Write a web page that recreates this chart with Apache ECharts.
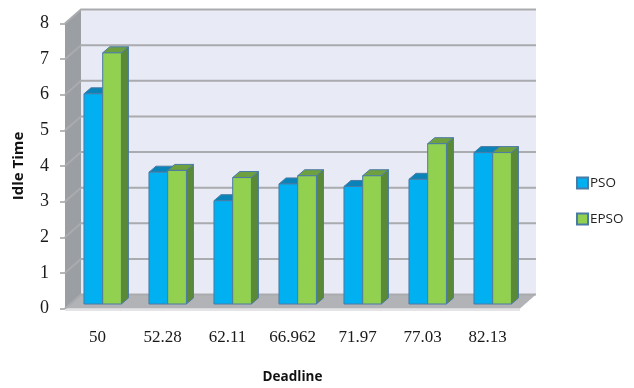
<!DOCTYPE html>
<html>
<head>
<meta charset="utf-8">
<style>html,body{margin:0;padding:0;background:#fff}#chart{width:634px;height:388px}</style>
<script src="https://cdn.jsdelivr.net/npm/echarts@6/dist/echarts.min.js"></script>
</head>
<body>
<div id="chart"></div>
<script>
// Idle time per deadline for the two schedulers
const deadlines = ['50', '52.28', '62.11', '66.962', '71.97', '77.03', '82.13'];
const psoValues = [5.9, 3.7, 2.9, 3.37, 3.3, 3.5, 4.25];
const epsoValues = [7.05, 3.75, 3.55, 3.6, 3.6, 4.5, 4.25];
const yTicks = [0, 1, 2, 3, 4, 5, 6, 7, 8];

// Pseudo-3D box depth for the chart room and for the bars inside it
const ROOM_DX = 16, ROOM_DY = -14;
const BAR_SHIFT_X = 5.2, BAR_SHIFT_Y = -4.5, BAR_DX = 7, BAR_DY = -6;
const BAR_WIDTH_RATIO = 0.288;

function poly(points, fill, extra) {
  return Object.assign({
    type: 'polygon', silent: true,
    shape: { points: points },
    style: { fill: fill, stroke: 'none' }
  }, extra || {});
}

// Back wall, side wall, floor and the gridlines running along them
function renderRoom(params, api) {
  const g = params.coordSys;
  const l = g.x, r = g.x + g.width;
  const y0 = api.coord([0, 0])[1], yT = api.coord([0, yTicks[yTicks.length - 1]])[1];
  const kids = [
    poly([[l + ROOM_DX, yT + ROOM_DY], [r + ROOM_DX, yT + ROOM_DY], [r + ROOM_DX, y0 + ROOM_DY], [l + ROOM_DX, y0 + ROOM_DY]], '#e8ebf5'),
    poly([[l, yT], [l + ROOM_DX, yT + ROOM_DY], [l + ROOM_DX, y0 + ROOM_DY], [l, y0]], '#9b9fa3'),
    poly([[l, y0], [l + ROOM_DX, y0 + ROOM_DY], [r + ROOM_DX, y0 + ROOM_DY], [r, y0]], '#b1b3b6')
  ];
  yTicks.forEach(function (t) {
    const y = api.coord([0, t])[1];
    kids.push({
      type: 'polyline', silent: true,
      shape: { points: [[l, y], [l + ROOM_DX, y + ROOM_DY], [r + ROOM_DX, y + ROOM_DY]] },
      style: { fill: 'none', stroke: '#a9abae', lineWidth: 2 }
    });
  });
  kids.push({
    type: 'line', silent: true,
    shape: { x1: l, y1: y0 + 1.5, x2: r, y2: y0 + 1.5 },
    style: { stroke: '#e4e4e6', lineWidth: 2 }
  });
  return { type: 'group', children: kids };
}

// One extruded bar; slot 0 sits left of the category centre, slot 1 right of it
function barRenderer(slot, front, side, top) {
  return function (params, api) {
    const cat = api.value(0), val = api.value(1);
    const base = api.coord([cat, 0]), head = api.coord([cat, val]);
    const w = api.size([1, 0])[0] * BAR_WIDTH_RATIO;
    const x1 = base[0] + BAR_SHIFT_X + (slot - 1) * w, x2 = x1 + w;
    const yb = base[1] + BAR_SHIFT_Y, yt = head[1] + BAR_SHIFT_Y;
    const edge = { stroke: '#4a7ba6', lineWidth: 1, lineJoin: 'round' };
    return {
      type: 'group',
      children: [
        poly([[x2, yt], [x2 + BAR_DX, yt + BAR_DY], [x2 + BAR_DX, yb + BAR_DY], [x2, yb]], side, { style: Object.assign({ fill: side }, edge) }),
        poly([[x1, yt], [x1 + BAR_DX, yt + BAR_DY], [x2 + BAR_DX, yt + BAR_DY], [x2, yt]], top, { style: Object.assign({ fill: top }, edge) }),
        poly([[x1, yt], [x2, yt], [x2, yb], [x1, yb]], front, { style: Object.assign({ fill: front }, edge) })
      ]
    };
  };
}

const chart = echarts.init(document.getElementById('chart'), null, { renderer: 'canvas' });
chart.setOption({
  animation: false,
  backgroundColor: '#ffffff',
  grid: { left: 65, right: 114, top: 23.5, bottom: 79.5, outerBoundsMode: 'none' },
  legend: {
    orient: 'vertical', left: 571, top: 171, icon: 'rect', itemWidth: 11, itemHeight: 11, itemGap: 22,
    data: ['PSO', 'EPSO'],
    textStyle: { fontFamily: 'Open Sans', fontSize: 13.5, color: '#222', padding: [0, 0, 0, -3] }
  },
  xAxis: {
    type: 'category', data: deadlines,
    name: 'Deadline', nameLocation: 'middle', nameGap: 62,
    nameTextStyle: { fontFamily: 'Open Sans', fontWeight: 'bold', fontSize: 13.5, color: '#111' },
    axisLine: { show: false }, axisTick: { show: false },
    axisLabel: { fontFamily: 'Liberation Serif', fontSize: 17, color: '#1a1a1a', margin: 21, interval: 0 }
  },
  yAxis: {
    type: 'value', min: 0, max: 8, interval: 1,
    name: 'Idle Time', nameLocation: 'middle', nameGap: 39,
    nameTextStyle: { fontFamily: 'Open Sans', fontWeight: 'bold', fontSize: 15, color: '#111' },
    splitLine: { show: false },
    axisLine: { show: false },
    axisTick: { show: true, length: 5, lineStyle: { color: '#a0a0a0', width: 1.5 } },
    axisLabel: { fontFamily: 'Liberation Serif', fontSize: 18, color: '#1a1a1a', margin: 16,
      formatter: function (v) { return yTicks.indexOf(v) >= 0 ? String(v) : ''; } }
  },
  series: [
    { type: 'custom', name: 'room', z: 1, silent: true, renderItem: renderRoom, data: [[0, 0]], clip: false, encode: { x: 0, y: 1 } },
    {
      type: 'custom', name: 'PSO', z: 2, clip: false, encode: { x: 0, y: 1 },
      itemStyle: { color: '#00b0f0', borderColor: '#4a7ba6', borderWidth: 1 },
      renderItem: barRenderer(0, '#00b0f0', '#0a7fb0', '#0a83b8'),
      data: psoValues.map(function (v, i) { return [i, v]; })
    },
    {
      type: 'custom', name: 'EPSO', z: 3, clip: false, encode: { x: 0, y: 1 },
      itemStyle: { color: '#92d050', borderColor: '#4a7ba6', borderWidth: 1 },
      renderItem: barRenderer(1, '#92d050', '#5a8a35', '#6fa040'),
      data: epsoValues.map(function (v, i) { return [i, v]; })
    }
  ]
});
</script>
</body>
</html>
